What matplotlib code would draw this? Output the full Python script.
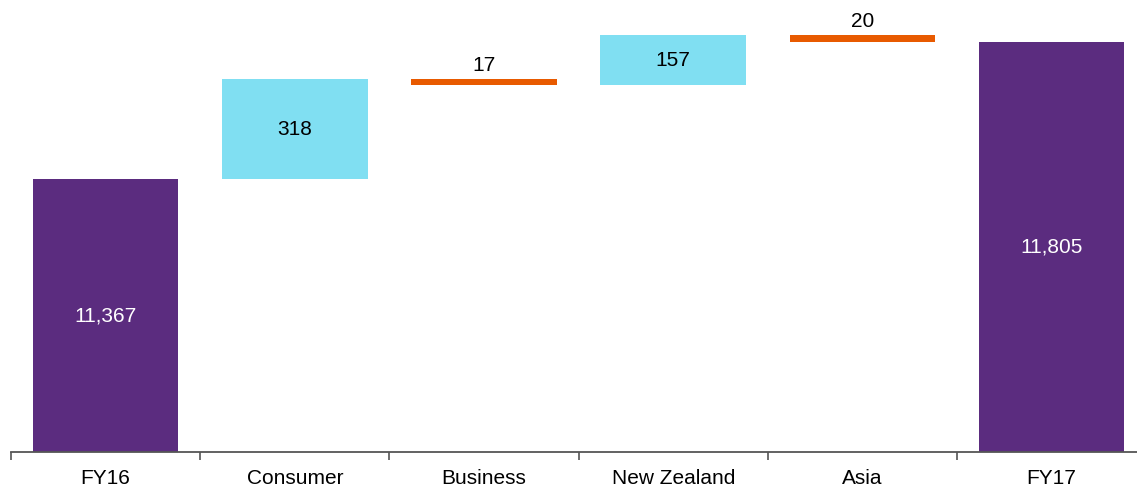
import matplotlib.pyplot as plt
import numpy as np

plt.rcParams['font.family'] = ['Liberation Sans', 'DejaVu Sans']

categories = ['FY16', 'Consumer', 'Business', 'New Zealand', 'Asia', 'FY17']
start_total = 11367
changes = [318, -17, 157, -20]
end_total = 11805
labels = ['11,367', '318', '17', '157', '20', '11,805']

purple = '#5b2c7f'
up_col = '#80dff2'
down_col = '#e85a00'

ymin = 10500

fig = plt.figure(figsize=(11.37, 4.86), dpi=100)
# axes slightly wider than the figure so the right end of the axis gets clipped
ax = fig.add_axes([11 / 1137, 34 / 486, 6 * 189.2 / 1137, 452 / 486])

x = np.arange(len(categories))
width = 0.77

# totals
ax.bar(x[0], start_total - ymin, width, bottom=ymin, color=purple)
ax.bar(x[-1], end_total - ymin, width, bottom=ymin, color=purple)

# steps
level = start_total
step_tops = []
for i, c in enumerate(changes):
    col = up_col if c > 0 else down_col
    lo = min(level, level + c)
    ax.bar(x[i + 1], abs(c), width, bottom=lo, color=col)
    step_tops.append((lo, lo + abs(c), c))
    level += c

# labels
fs = 15
ax.text(x[0], (ymin + start_total) / 2, labels[0], ha='center', va='center',
        color='white', fontsize=fs)
ax.text(x[-1], (ymin + end_total) / 2, labels[-1], ha='center', va='center',
        color='white', fontsize=fs)
for i, (lo, hi, c) in enumerate(step_tops):
    if c > 0:
        ax.text(x[i + 1], (lo + hi) / 2, labels[i + 1], ha='center', va='center',
                color='black', fontsize=fs)
    else:
        ax.text(x[i + 1], hi + 14, labels[i + 1], ha='center', va='bottom',
                color='black', fontsize=fs)

ax.set_xlim(-0.5, 5.5)
ax.set_ylim(ymin, ymin + 452 * 3.18)

for s in ['top', 'right', 'left']:
    ax.spines[s].set_visible(False)
ax.spines['bottom'].set_color('#555555')
ax.spines['bottom'].set_linewidth(1.3)
ax.set_yticks([])

ax.set_xticks(np.arange(-0.5, 5.5, 1.0))
ax.set_xticklabels([])
ax.set_xticks(x, minor=True)
ax.set_xticklabels(categories, minor=True, fontsize=fs)
ax.tick_params(axis='x', which='major', direction='out', length=6,
               color='#555555', width=1.2)
ax.tick_params(axis='x', which='minor', length=0, pad=12)

fig.savefig('out.png', dpi=100)
